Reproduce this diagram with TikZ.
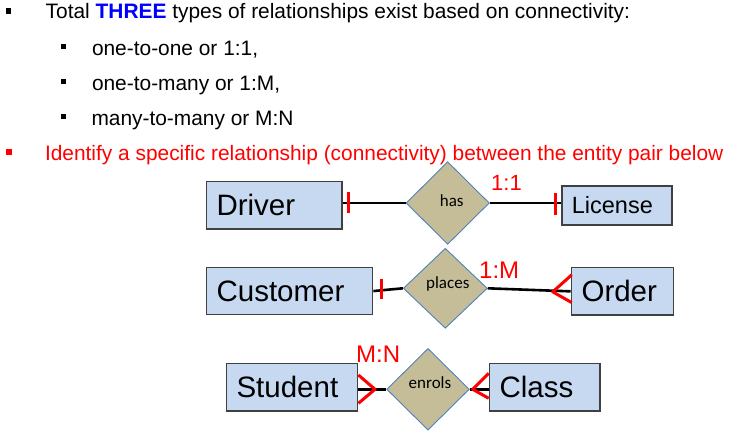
\documentclass[tikz,border=0pt]{standalone}
\usepackage{fontspec}
\setmainfont{Liberation Sans}
\newfontfamily\calib{Carlito}
\usetikzlibrary{shapes.geometric,calc}
\definecolor{boxfill}{RGB}{198,217,241}
\definecolor{boxdraw}{RGB}{64,64,64}
\definecolor{reltan}{RGB}{196,189,151}
\definecolor{relborder}{RGB}{79,129,189}
\definecolor{myred}{RGB}{255,0,0}
\definecolor{myblue}{RGB}{0,0,255}
\begin{document}
\begin{tikzpicture}[x=1pt,y=-1pt,
 entity/.style={draw=boxdraw, fill=boxfill, line width=1.7pt, inner xsep=10pt, inner ysep=0pt, align=left, anchor=north west, font=\fontsize{29.5}{32}\selectfont},
 rel/.style={diamond, draw=relborder, fill=reltan, line width=0.9pt, inner sep=0pt, font=\calib\fontsize{17}{18}\selectfont},
 link/.style={line width=2.6pt, black},
 card/.style={line width=3pt, myred},
 btxt/.style={anchor=base west, inner sep=0pt, font=\fontsize{20.9}{24}\selectfont},
 bul/.style={fill, minimum size=5.5pt, inner sep=0pt},
 cardlbl/.style={anchor=base west, inner sep=0pt, text=myred, font=\fontsize{24}{26}\selectfont}
]
\useasboundingbox[fill=white] (0,0) rectangle (736,440);

% top text
\node[bul] (b1) at (8.5,11.2) {};
\node[btxt] (t1) at (45.5,18.3) {Total \textcolor{myblue}{\textbf{THREE}} types of relationships exist based on connectivity:};
\node[bul] (b2) at (63.3,46.7) {};
\node[btxt] (t2) at (91.8,55) {one-to-one or 1:1,};
\node[bul] (b3) at (63.3,81.7) {};
\node[btxt] (t3) at (91.8,90) {one-to-many or 1:M,};
\node[bul] (b4) at (63.3,116.7) {};
\node[btxt] (t4) at (91.3,125) {many-to-many or M:N};
\node[bul, myred] (b5) at (8.8,152) {};
\node[btxt, text=myred] (t5) at (44.8,160.7) {Identify a specific relationship (connectivity) between the entity pair below};

% row 1
\node[entity, text width=115.3pt, minimum height=47.6pt] (Driver) at (205.7,180.7) {Driver};
\node[entity, text width=90pt, minimum height=39.3pt, font=\fontsize{23.5}{26}\selectfont] (License) at (561,185) {License};
\node[rel, minimum width=83.3pt, minimum height=82.6pt, text height=6pt, text depth=0pt] (has) at (447.7,203) {\hspace*{8pt}has};
\draw[link] (has.west -| Driver.east) -- (has.west);
\draw[link] (has.east) -- (has.east -| License.west);
\draw[card] ($(has.west -| Driver.east)+(5.5,-10.7)$) -- ++(0,21);
\draw[card] ($(has.east -| License.west)+(-6,-10)$) -- ++(0,22);
\node[cardlbl, font=\fontsize{22}{24}\selectfont] (l11) at (491,190) {1:1};

% row 2
\node[entity, text width=146pt, minimum height=47pt] (Customer) at (205.7,266.7) {Customer};
\node[entity, text width=82pt, minimum height=47.6pt] (Order) at (570.7,266.7) {Order};
\node[rel, minimum width=84pt, minimum height=80pt, text height=0pt, text depth=0pt] (places) at (445.3,288.3) {\hspace*{5pt}places};
\draw[link] (Customer.east) -- (places.west);
\draw[link] (places.east) -- (Order.west);
\draw[card] ($(Customer.east)+(8.3,-12)$) -- ++(0,20);
\draw[card, line join=round] ($(Order.west)+(1,-16.5)$) -- ($(Order.west)+(-18,0.5)$) -- ($(Order.west)+(1,11.2)$);
\node[cardlbl] (l1m) at (479,278.3) {1:M};

% row 3
\node[entity, text width=111pt, minimum height=47.3pt] (Student) at (225.7,362.7) {Student};
\node[entity, text width=90.3pt, minimum height=47.3pt] (Class) at (488.7,362.7) {Class};
\node[rel, minimum width=82.6pt, minimum height=81.7pt, text height=0pt, text depth=2pt] (enrols) at (428,389.3) {\hspace*{4pt}enrols};
\draw[link] (enrols.west -| Student.east) -- (enrols.west);
\draw[link] (enrols.east) -- (enrols.east -| Class.west);
\draw[card, line join=round] ($(enrols.west -| Student.east)+(0,-14.3)$) -- ($(enrols.west -| Student.east)+(16.6,0)$) -- ($(enrols.west -| Student.east)+(0,14)$);
\draw[card, line join=round] ($(enrols.east -| Class.west)+(0,-16)$) -- ($(enrols.east -| Class.west)+(-16,0)$) -- ($(enrols.east -| Class.west)+(0,9)$);
\node[cardlbl] (lmn) at (356,362.3) {M:N};
\end{tikzpicture}
\end{document}
